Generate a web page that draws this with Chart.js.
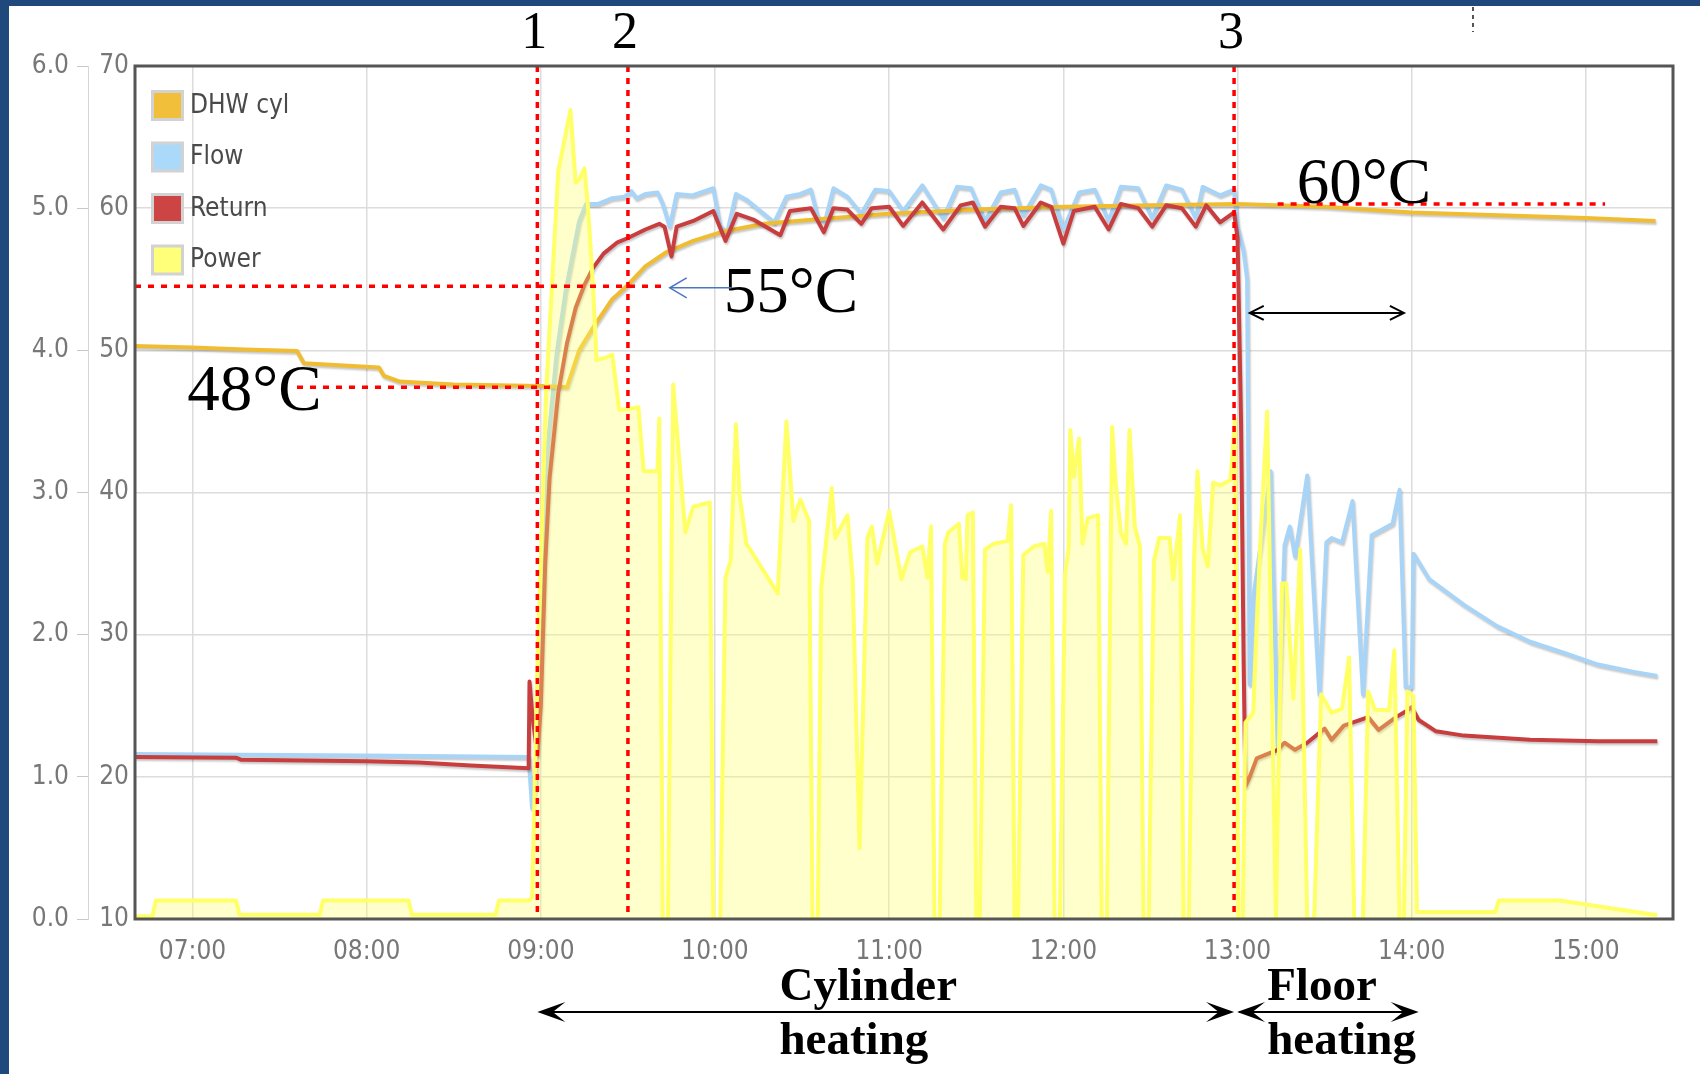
<!DOCTYPE html>
<html>
<head>
<meta charset="utf-8">
<script src="https://cdn.jsdelivr.net/npm/chart.js@4.4.1/dist/chart.umd.min.js"></script>
<style>
  html, body { margin: 0; padding: 0; background: #fff; overflow: hidden; }
  #frame { position: absolute; left: 0; top: 0; width: 1700px; height: 1074px;
           border-left: 9px solid #1F497D; border-top: 6px solid #1F497D; box-sizing: border-box; }
  canvas { position: absolute; left: 0; top: 0; }
</style>
</head>
<body>
<div id="frame"></div>
<canvas id="chart" width="1700" height="1074"></canvas>
<script>
// time in decimal hours, temperatures in °C, power in kW
const hourTicks = [7, 8, 9, 10, 11, 12, 13, 14, 15];
const tempTicks = [10, 20, 30, 40, 50, 60, 70];
const powerTicks = [0, 1, 2, 3, 4, 5, 6];

const dhwTime = [6.67, 7.0, 7.3, 7.6, 7.64, 8.07, 8.1, 8.19, 8.5, 9.0, 9.15, 9.22, 9.3, 9.41, 9.5,
  9.6, 9.72, 9.875, 10.03, 10.28, 10.57, 11.0, 11.5, 12.0, 12.5, 13.0, 13.5, 14.0, 14.5, 15.0, 15.4];
const dhwTemp = [50.3, 50.2, 50.05, 49.95, 49.1, 48.8, 48.2, 47.8, 47.6, 47.5, 47.4, 50.0, 51.6, 53.6, 54.6,
  55.9, 56.9, 57.7, 58.3, 58.9, 59.2, 59.6, 59.9, 60.1, 60.2, 60.3, 60.1, 59.7, 59.5, 59.3, 59.1];

const flowTime = [6.67, 7.3, 8.0, 8.5, 8.93, 8.95, 8.97, 9.0, 9.03, 9.09, 9.14, 9.22, 9.26, 9.33, 9.41,
  9.48, 9.52, 9.55, 9.6, 9.67, 9.7, 9.74, 9.78, 9.87, 9.99, 10.03, 10.07, 10.12, 10.18, 10.28, 10.34,
  10.41, 10.49, 10.55, 10.59, 10.63, 10.68, 10.76, 10.84, 10.92, 11.0, 11.08, 11.19, 11.31, 11.39,
  11.47, 11.55, 11.64, 11.72, 11.77, 11.87, 11.93, 12.0, 12.09, 12.18, 12.26, 12.33, 12.43, 12.51,
  12.59, 12.68, 12.76, 12.8, 12.9, 12.98, 13.0, 13.035, 13.055, 13.07, 13.09, 13.19, 13.23, 13.27,
  13.3, 13.33, 13.4, 13.47, 13.51, 13.54, 13.6, 13.66, 13.72, 13.77, 13.83, 13.89, 13.93, 13.965,
  14.0, 14.01, 14.1, 14.3, 14.49, 14.68, 14.88, 15.07, 15.27, 15.41];
const flowTemp = [21.6, 21.55, 21.5, 21.45, 21.4, 17.8, 19.5, 31, 42, 49.7, 54, 59.1, 60.3, 60.3, 60.7,
  60.8, 61.2, 60.7, 61.0, 61.1, 60.3, 58.7, 61.0, 60.9, 61.4, 58.7, 58.3, 61.0, 60.6, 59.6, 59.0,
  60.8, 61.0, 61.3, 59.4, 59.0, 61.4, 60.8, 59.6, 61.3, 61.2, 59.8, 61.6, 59.3, 61.5,
  61.4, 59.1, 61.1, 61.3, 59.5, 61.6, 61.3, 58.5, 61.1, 61.3, 59.1, 61.5, 61.4, 59.3,
  61.6, 61.3, 59.3, 61.5, 60.9, 61.3, 58.7, 57, 55, 26.5, 32.5, 41.5, 22.1, 36.3,
  37.6, 35.5, 41.2, 25.8, 36.5, 36.8, 36.5, 39.4, 25.8, 37, 37.4, 37.8, 40.2, 26.3,
  26.3, 35.7, 33.9, 32.1, 30.6, 29.5, 28.7, 27.9, 27.4, 27.1];

const returnTime = [6.67, 7.25, 7.28, 8.0, 8.3, 8.6, 8.93, 8.935, 8.95, 8.98, 9.0, 9.01, 9.025, 9.05,
  9.1, 9.15, 9.2, 9.25, 9.3, 9.36, 9.44, 9.5, 9.6, 9.68, 9.71, 9.75, 9.78, 9.875, 9.99, 10.06, 10.125,
  10.22, 10.375, 10.43, 10.55, 10.625, 10.68, 10.76, 10.84, 10.9, 11.0, 11.08, 11.19, 11.31, 11.41,
  11.48, 11.55, 11.64, 11.72, 11.77, 11.87, 11.93, 12.0, 12.06, 12.18, 12.26, 12.33, 12.43, 12.51,
  12.59, 12.68, 12.76, 12.82, 12.9, 12.98, 13.0, 13.02, 13.035, 13.045, 13.07, 13.11, 13.23, 13.27,
  13.33, 13.4, 13.5, 13.54, 13.61, 13.75, 13.81, 13.91, 13.965, 14.0, 14.04, 14.14, 14.3, 14.68,
  15.07, 15.41];
const returnTemp = [21.4, 21.35, 21.2, 21.1, 21.0, 20.8, 20.6, 26.7, 24.5, 21.5, 25, 29, 35, 41,
  47, 50.5, 53, 54.6, 55.8, 56.8, 57.6, 57.9, 58.5, 58.9, 58.7, 56.6, 58.7, 59.1, 59.8, 57.7, 59.6,
  59.2, 58.1, 59.8, 60.0, 58.3, 60.0, 59.9, 58.9, 60.0, 60.1, 58.75, 60.4, 58.5, 60.2,
  60.4, 58.7, 60.1, 60.0, 58.75, 60.4, 60.1, 57.5, 59.8, 60.1, 58.5, 60.3, 60.0, 58.7,
  60.2, 60.0, 58.7, 60.2, 59.0, 59.7, 57.9, 45, 28, 19.3, 20, 21.3, 21.9, 22.4,
  21.9, 22.4, 23.4, 22.6, 23.6, 24.2, 23.3, 24.2, 24.6, 24.9, 24.0, 23.2, 22.9, 22.6,
  22.5, 22.5];

const powerTime = [6.67, 6.77, 6.79, 7.25, 7.27, 7.73, 7.75, 8.24, 8.26, 8.74, 8.76, 8.93, 8.95, 8.98,
  9.03, 9.1, 9.17, 9.2, 9.22, 9.25, 9.27, 9.3, 9.32, 9.375, 9.41, 9.45, 9.56, 9.59, 9.67, 9.68, 9.70,
  9.73, 9.76, 9.80, 9.83, 9.875, 9.97, 9.99, 10.03, 10.06, 10.09, 10.12, 10.14, 10.18, 10.36, 10.41,
  10.45, 10.49, 10.54, 10.56, 10.59, 10.61, 10.67, 10.69, 10.76, 10.79, 10.83, 10.875, 10.9, 10.93,
  11.0, 11.07, 11.12, 11.19, 11.22, 11.24, 11.26, 11.29, 11.32, 11.34, 11.40, 11.42, 11.44, 11.45,
  11.48, 11.50, 11.52, 11.55, 11.6, 11.68, 11.70, 11.72, 11.74, 11.77, 11.83, 11.89, 11.91, 11.93,
  11.95, 11.98, 12.01, 12.03, 12.04, 12.06, 12.09, 12.11, 12.14, 12.2, 12.22, 12.25, 12.27, 12.28,
  12.30, 12.33, 12.36, 12.38, 12.41, 12.44, 12.46, 12.49, 12.52, 12.55, 12.61, 12.63, 12.67, 12.69,
  12.72, 12.75, 12.77, 12.8, 12.83, 12.86, 12.9, 12.96, 12.985, 13.005, 13.03, 13.045, 13.09, 13.13,
  13.17, 13.22, 13.255, 13.28, 13.32, 13.36, 13.40, 13.44, 13.48, 13.54, 13.6, 13.64, 13.67, 13.72,
  13.75, 13.79, 13.87, 13.9, 13.93, 13.955, 13.975, 14.01, 14.03, 14.48, 14.5, 14.85, 15.39, 15.41];
const powerKw = [0.02, 0.02, 0.13, 0.13, 0.03, 0.03, 0.13, 0.13, 0.03, 0.03, 0.13, 0.13, 0.15, 1.74,
  3.7, 5.26, 5.69, 5.18, 5.2, 5.28, 5.02, 4.44, 3.93, 3.95, 3.97, 3.58, 3.6, 3.15, 3.15, 3.52, 0,
  0, 3.76, 3.15, 2.72, 2.9, 2.93, 0, 0, 2.4, 2.52, 3.48, 2.99, 2.64, 2.29, 3.5,
  2.8, 2.95, 2.8, 0, 0, 2.33, 3.03, 2.68, 2.84, 2.4, 0.5, 2.68, 2.76, 2.5,
  2.87, 2.39, 2.58, 2.62, 2.4, 2.76, 0, 0, 2.64, 2.72, 2.78, 2.4, 2.39, 2.84,
  2.86, 0, 0, 2.6, 2.64, 2.66, 2.91, 0, 0, 2.56, 2.62, 2.64, 2.44, 2.87,
  0, 0, 2.43, 2.6, 3.44, 3.11, 3.38, 2.64, 2.82, 2.84, 0, 0, 2.4, 3.46,
  3.07, 2.72, 2.64, 3.44, 2.76, 2.62, 0, 0, 2.52, 2.68, 2.68, 2.39, 2.84, 0,
  0, 2.52, 3.15, 2.6, 2.48, 3.07, 3.05, 3.09, 3.52, 0, 0, 1.38, 1.45, 2.63,
  3.57, 0, 2.36, 2.36, 1.55, 2.6, 0, 0, 1.58, 1.45, 1.48, 1.84, 0, 0,
  1.6, 1.47, 1.47, 1.89, 0, 0, 1.6, 1.57, 0.05, 0.05, 0.13, 0.13, 0.03, 0.03];

// annotation marks (times / temperatures)
const markerTimes = [8.98, 9.5, 12.98];
const markerLabels = ['1', '2', '3'];

const pts = (xs, ys) => xs.map((x, i) => ({ x: x, y: ys[i] }));
const narrow = "'Liberation Sans Narrow', 'DejaVu Sans Condensed', 'Liberation Sans', sans-serif";
const serif = "'Liberation Serif', 'DejaVu Serif', serif";

function line(ctx, x1, y1, x2, y2) {
  ctx.beginPath(); ctx.moveTo(x1, y1); ctx.lineTo(x2, y2); ctx.stroke();
}

// barbed arrow head, tip at (x,y), dir = +1 points right, -1 points left
function barb(ctx, x, y, dir) {
  const L = 28, W = 10;
  ctx.beginPath();
  ctx.moveTo(x, y);
  ctx.lineTo(x - dir * L, y - W);
  ctx.lineTo(x - dir * L * 0.55, y);
  ctx.lineTo(x - dir * L, y + W);
  ctx.closePath();
  ctx.fill();
}

function openHead(ctx, x, y, dir, len, half) {
  ctx.beginPath();
  ctx.moveTo(x - dir * len, y - half);
  ctx.lineTo(x, y);
  ctx.lineTo(x - dir * len, y + half);
  ctx.stroke();
}

const lineShadow = {
  id: 'lineShadow',
  beforeDatasetDraw(chart, args) {
    if (args.meta.yAxisID === 'yP') return;
    const ctx = chart.ctx;
    ctx.save();
    ctx.shadowColor = 'rgba(0,0,0,0.22)';
    ctx.shadowBlur = 2;
    ctx.shadowOffsetX = 1;
    ctx.shadowOffsetY = 2;
  },
  afterDatasetDraw(chart, args) {
    if (args.meta.yAxisID === 'yP') return;
    chart.ctx.restore();
  }
};

const overlay = {
  id: 'overlay',
  afterDatasetsDraw(chart) {
    const ctx = chart.ctx, a = chart.chartArea, x = chart.scales.x, yT = chart.scales.yT;
    ctx.save();

    // red dotted markers
    ctx.strokeStyle = '#FF0000';
    ctx.lineWidth = 3.5;
    ctx.setLineDash([6, 6]);
    markerTimes.forEach(t => {
      const px = x.getPixelForValue(t);
      line(ctx, px, a.top, px, a.bottom);
    });
    ctx.setLineDash([6, 7]);
    [[54.5, 6.67, 9.72], [47.4, 7.6, 9.06], [60.3, 13.23, 15.11]].forEach(m => {
      const py = yT.getPixelForValue(m[0]);
      line(ctx, x.getPixelForValue(m[1]), py, x.getPixelForValue(m[2]), py);
    });
    ctx.setLineDash([]);

    // plot frame
    ctx.strokeStyle = '#555';
    ctx.lineWidth = 3;
    ctx.strokeRect(a.left, a.top, a.right - a.left, a.bottom - a.top);
    ctx.restore();
  },
  afterDraw(chart) {
    const ctx = chart.ctx, a = chart.chartArea, x = chart.scales.x, yT = chart.scales.yT;
    ctx.save();

    // legend
    chart.data.datasets.forEach((ds, i) => {
      const bx = a.left + 16, by = a.top + 24 + i * 51.5;
      ctx.fillStyle = '#d2d2d2';
      ctx.fillRect(bx, by, 33, 31);
      ctx.fillStyle = ds.legendColor;
      ctx.fillRect(bx + 3, by + 3, 27, 25);
      ctx.fillStyle = '#4a4a4a';
      ctx.font = '26px ' + narrow;
      ctx.textBaseline = 'middle';
      ctx.textAlign = 'left';
      ctx.fillText(ds.label, a.left + 55, by + 16);
    });

    // marker numbers
    ctx.fillStyle = '#000';
    ctx.textBaseline = 'alphabetic';
    ctx.textAlign = 'center';
    ctx.font = '52px ' + serif;
    markerTimes.forEach((t, i) => ctx.fillText(markerLabels[i], x.getPixelForValue(t) - 3, 48));

    // temperature notes
    ctx.textAlign = 'left';
    ctx.font = '65px ' + serif;
    ctx.fillText('48°C', x.getPixelForValue(6.97), yT.getPixelForValue(45.8));
    ctx.fillText('55°C', x.getPixelForValue(10.05), yT.getPixelForValue(52.72));
    ctx.fillText('60°C', x.getPixelForValue(13.34), yT.getPixelForValue(60.37));

    // blue pointer to 55°C
    ctx.strokeStyle = '#4A76C0';
    ctx.lineWidth = 1.5;
    let py = yT.getPixelForValue(54.4);
    const tip = x.getPixelForValue(9.74);
    line(ctx, x.getPixelForValue(10.095), py, tip, py);
    openHead(ctx, tip, py, -1, 17, 10);

    // black double arrow after point 3
    ctx.strokeStyle = '#000';
    ctx.lineWidth = 2;
    py = yT.getPixelForValue(52.63);
    const l1 = x.getPixelForValue(13.07), r1 = x.getPixelForValue(13.955);
    line(ctx, l1, py, r1, py);
    openHead(ctx, l1, py, -1, 14, 7);
    openHead(ctx, r1, py, 1, 14, 7);

    // heating phase arrows below the axis
    const ay = 1012;
    const c0 = x.getPixelForValue(8.98), c1 = x.getPixelForValue(12.98), f1 = x.getPixelForValue(14.04);
    ctx.fillStyle = '#000';
    line(ctx, c0 + 5, ay, c1 - 5, ay);
    line(ctx, c1 + 5, ay, f1 - 5, ay);
    barb(ctx, c0, ay, -1);
    barb(ctx, c1, ay, 1);
    barb(ctx, c1 + 3, ay, -1);
    barb(ctx, f1, ay, 1);

    ctx.font = 'bold 47px ' + serif;
    ctx.fillText('Cylinder', x.getPixelForValue(10.37), 1000);
    ctx.fillText('heating', x.getPixelForValue(10.37), 1054);
    ctx.fillText('Floor', x.getPixelForValue(13.17), 1000);
    ctx.fillText('heating', x.getPixelForValue(13.17), 1054);

    // small dotted stub at the top
    ctx.strokeStyle = '#555';
    ctx.lineWidth = 2;
    ctx.setLineDash([4, 4]);
    line(ctx, 1473, 7, 1473, 32);
    ctx.restore();
  }
};

Chart.defaults.font.family = narrow;
Chart.defaults.font.size = 26;
Chart.defaults.color = '#777';

const common = { pointRadius: 0, borderWidth: 4, tension: 0, borderJoinStyle: 'round', fill: false };

new Chart(document.getElementById('chart'), {
  type: 'line',
  data: {
    datasets: [
      Object.assign({ label: 'DHW cyl', data: pts(dhwTime, dhwTemp), borderColor: '#F0BC32',
        legendColor: '#F2BF3A', yAxisID: 'yT', order: 2 }, common),
      Object.assign({ label: 'Flow', data: pts(flowTime, flowTemp), borderColor: '#A8D5F7',
        legendColor: '#ABD9FA', yAxisID: 'yT', order: 3 }, common),
      Object.assign({ label: 'Return', data: pts(returnTime, returnTemp), borderColor: '#C83E3E',
        legendColor: '#CC4444', yAxisID: 'yT', order: 1 }, common),
      Object.assign({}, common, { label: 'Power', data: pts(powerTime, powerKw), borderColor: '#FFFF66',
        backgroundColor: 'rgba(255,255,110,0.35)', fill: 'origin',
        legendColor: '#FFFF7A', yAxisID: 'yP', order: 0 })
    ]
  },
  options: {
    responsive: false,
    animation: false,
    layout: { padding: { left: 0, top: 66, right: 27, bottom: 0 } },
    plugins: { legend: { display: false }, tooltip: { enabled: false } },
    scales: {
      x: {
        type: 'linear',
        min: 6.67,
        max: 15.5,
        afterBuildTicks: (s) => { s.ticks = hourTicks.map(v => ({ value: v })); },
        afterFit: (s) => { s.height = 155; },
        ticks: {
          padding: 18,
          color: '#777',
          callback: (v) => String(v).padStart(2, '0') + ':00'
        },
        grid: { color: '#dcdcdc', lineWidth: 1.5, drawTicks: false },
        border: { display: false }
      },
      yP: {
        type: 'linear',
        position: 'left',
        weight: 2,
        min: 0,
        max: 6,
        afterBuildTicks: (s) => { s.ticks = powerTicks.map(v => ({ value: v })); },
        afterFit: (s) => { s.width = 88; },
        ticks: { padding: 8, color: '#777', callback: (v) => v.toFixed(1) },
        grid: { drawOnChartArea: false, drawTicks: true, tickLength: 11, color: '#c8c8c8' },
        border: { display: true, color: '#d6d6d6' }
      },
      yT: {
        type: 'linear',
        position: 'left',
        weight: 1,
        min: 10,
        max: 70,
        afterBuildTicks: (s) => { s.ticks = tempTicks.map(v => ({ value: v })); },
        afterFit: (s) => { s.width = 47; },
        ticks: { padding: 6, color: '#777' },
        grid: { color: '#dcdcdc', lineWidth: 1.5, drawTicks: false },
        border: { display: false }
      }
    }
  },
  plugins: [lineShadow, overlay]
});
</script>
</body>
</html>
